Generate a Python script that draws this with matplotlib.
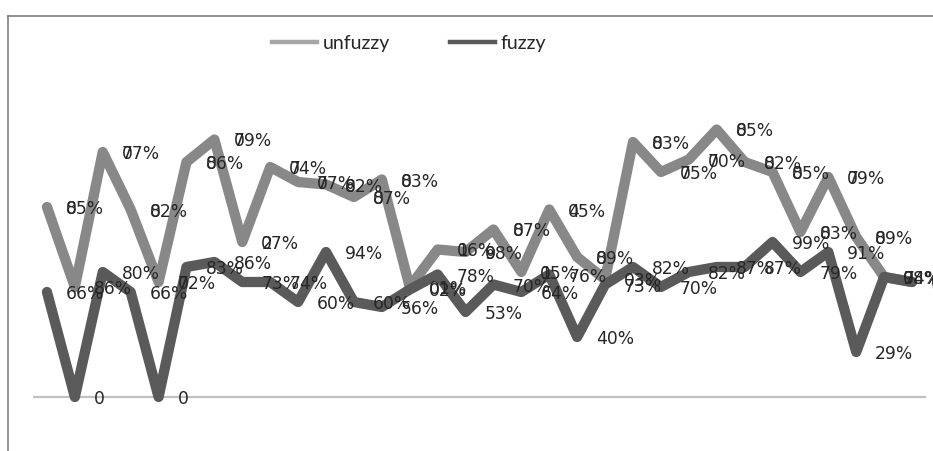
import matplotlib
matplotlib.use("Agg")
import matplotlib.pyplot as plt
from matplotlib.lines import Line2D

# ---- data (arbitrary value units, 0 = baseline) ----
categories = list(range(1, 33))
unfuzzy = [0.76, 0.44, 0.98, 0.75, 0.46, 0.94, 1.03, 0.62, 0.92, 0.86, 0.85, 0.80,
           0.87, 0.44, 0.59, 0.58, 0.67, 0.50, 0.75, 0.56, 0.47, 1.02, 0.90, 0.95,
           1.07, 0.94, 0.90, 0.66, 0.88, 0.64, 0.48, 0.46]
fuzzy = [0.42, 0.00, 0.50, 0.42, 0.00, 0.52, 0.54, 0.46, 0.46, 0.38, 0.58, 0.38,
         0.36, 0.43, 0.49, 0.34, 0.45, 0.42, 0.49, 0.24, 0.45, 0.52, 0.44, 0.50,
         0.52, 0.52, 0.62, 0.50, 0.58, 0.18, 0.48, 0.46]

# data labels (unfuzzy labels show a second leading digit printed over the first)
unfuzzy_labels = ["05%", "86%", "07%", "02%", "02%", "06%", "09%", "07%", "04%", "07%", "02%", "07%",
                  "03%", "01%", "06%", "08%", "07%", "05%", "05%", "09%", "03%", "03%", "05%", "00%",
                  "05%", "02%", "05%", "03%", "09%", "09%", "08%", "08%"]
unfuzzy_overlay = ["8", "", "7", "8", "7", "8", "7", "2", "7", "7", "8", "8",
                   "8", "", "1", "9", "8", "1", "4", "8", "", "8", "7", "7",
                   "8", "8", "8", "8", "7", "8", "9", "9"]
fuzzy_labels = ["66%", "0", "80%", "66%", "0", "83%", "86%", "73%", "74%", "60%", "94%", "60%",
                "56%", "02%", "78%", "53%", "70%", "64%", "76%", "40%", "73%", "82%", "70%", "82%",
                "87%", "87%", "99%", "79%", "91%", "29%", "74%", "74%"]

series_names = ["unfuzzy", "fuzzy"]

W, H = 933, 451
fig = plt.figure(figsize=(W / 100, H / 100), dpi=100)
fig.patch.set_facecolor("white")

# plot area
ax = fig.add_axes([33 / W, 0, 893 / W, 435 / H])
ax.set_xlim(-0.5, len(categories) - 0.5)
ax.set_ylim(-0.216, 1.524)
ax.axis("off")
ax.axhline(0, color="#c0c0c0", lw=1.6, zorder=1)

x = list(range(len(categories)))
c_unf = "#888888"
c_fuz = "#5a5a5a"
ax.plot(x, unfuzzy, color=c_unf, lw=7.4, solid_capstyle="round", solid_joinstyle="round", zorder=2)
ax.plot(x, fuzzy, color=c_fuz, lw=7.4, solid_capstyle="round", solid_joinstyle="round", zorder=3)

lab_kw = dict(textcoords="offset pixels", ha="left", va="center", fontsize=12.3,
              color="#262626", family="DejaVu Sans", zorder=5, annotation_clip=False)
off = (19, -2)
for i in x:
    ax.annotate(unfuzzy_labels[i], (i, unfuzzy[i]), xytext=off, **lab_kw)
    if unfuzzy_overlay[i]:
        ax.annotate(unfuzzy_overlay[i], (i, unfuzzy[i]), xytext=off, **lab_kw)
    ax.annotate(fuzzy_labels[i], (i, fuzzy[i]), xytext=off, **lab_kw)

# chart frame (partly cropped)
fig.add_artist(Line2D([8 / W, 1], [1 - 16 / H, 1 - 16 / H], transform=fig.transFigure,
                      color="#7f7f7f", lw=1.2))
fig.add_artist(Line2D([8 / W, 8 / W], [0, 1 - 16 / H], transform=fig.transFigure,
                      color="#7f7f7f", lw=1.2))

handles = [Line2D([], [], color="#a6a6a6", lw=3.2), Line2D([], [], color="#595959", lw=3.2)]
fig.legend(handles, series_names, loc="center left", bbox_to_anchor=(272 / W, 1 - 43 / H),
           ncol=2, frameon=False, handlelength=2.3, handletextpad=0.3, columnspacing=3.1,
           prop={"family": "Lato", "size": 14}, labelcolor="#262626", borderpad=0,
           borderaxespad=0)

fig.savefig("out.png", dpi=100, facecolor="white")
